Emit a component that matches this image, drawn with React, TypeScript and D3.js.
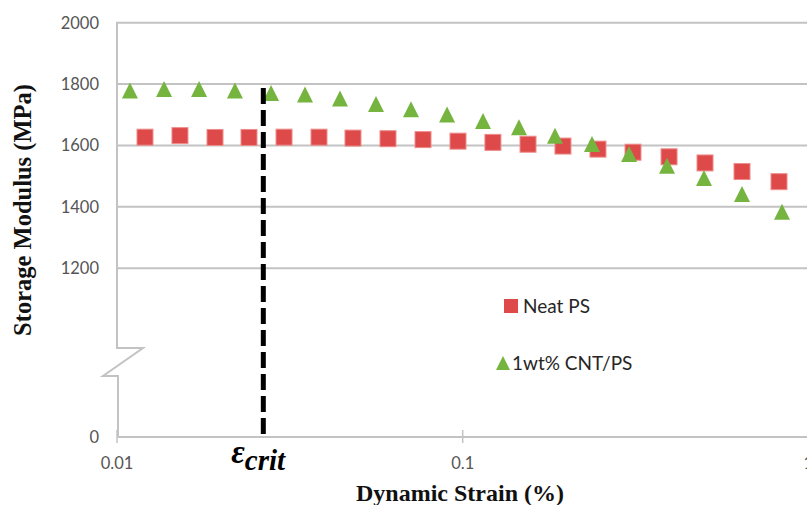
import * as d3 from 'd3'

const WIDTH = 807
const HEIGHT = 505

// Neat PS (red squares)
const neatStrain = [
  0.01205, 0.01521, 0.01921, 0.02409, 0.03042, 0.0384, 0.04815, 0.0608, 0.07677, 0.09692,
  0.1223, 0.1545, 0.195, 0.2462, 0.3109, 0.3953, 0.5023, 0.6426, 0.8222,
]
const neatModulus = [
  1627, 1632, 1626, 1626, 1627, 1627, 1624, 1622, 1619, 1614, 1610, 1604, 1598, 1588, 1578,
  1563, 1543, 1515, 1482,
]

// 1wt% CNT/PS (green triangles)
const cntStrain = [
  0.0109, 0.01368, 0.01727, 0.02194, 0.0279, 0.03498, 0.04417, 0.05614, 0.07088, 0.09009,
  0.1145, 0.1455, 0.1849, 0.2366, 0.3028, 0.3899, 0.4989, 0.6426, 0.8388,
]
const cntModulus = [
  1779, 1784, 1784, 1779, 1771, 1766, 1753, 1735, 1718, 1701, 1680, 1659, 1632, 1605, 1572,
  1534, 1494, 1442, 1384,
]

const yTicks = [0, 1200, 1400, 1600, 1800, 2000]
const yGridTicks = [1200, 1400, 1600, 1800, 2000]
const xTicks = [0.01, 0.1, 1]
const xTickLabels = ['0.01', '0.1', '1']
const ECRIT = 0.0265

const RED = '#de4a4a'
const GREEN = '#76b440'
const GRID = '#c3c3c3'
const LABEL = '#555'

const x = d3.scaleLog().domain([0.01, 1]).range([117, 808.4])
// broken axis: 0 sits below the 1200-2000 band
const y = d3.scaleLinear().domain([0, 1200, 2000]).range([437, 268.2, 22.7])

function trianglePath(cx: number, cy: number, h: number) {
  return `M${cx},${cy - h}L${cx + h},${cy + h}L${cx - h},${cy + h}Z`
}

export default function App() {
  const left = x(0.01)
  const right = x(1)
  const bottom = y(0)
  const breakTop = bottom - 89
  const breakBottom = bottom - 61

  const axisPath = d3.line()([
    [left, y(2000)],
    [left, breakTop],
    [left + 26, breakTop],
    [left - 14, breakBottom],
    [left + 1, breakBottom],
    [left + 1, bottom],
  ])

  return (
    <svg
      width={WIDTH}
      height={HEIGHT}
      style={{ position: 'absolute', left: 0, top: 0, background: '#fff' }}
    >
      <rect width={WIDTH} height={HEIGHT} fill="#fff" />

      {yGridTicks.map((t) => (
        <line key={t} x1={left - 1} x2={right} y1={y(t)} y2={y(t)} stroke={GRID} strokeWidth={2} />
      ))}
      <line x1={left + 1} x2={right} y1={bottom} y2={bottom} stroke={GRID} strokeWidth={2} />
      <path d={axisPath ?? ''} fill="none" stroke={GRID} strokeWidth={2} />

      {xTicks.map((t) => (
        <line key={t} x1={x(t)} x2={x(t)} y1={bottom - 7} y2={bottom + 6} stroke={GRID} strokeWidth={1.5} />
      ))}

      {yTicks.map((t) => (
        <text
          key={t}
          x={99}
          y={y(t) + 6}
          textAnchor="end"
          fontFamily="Lato"
          fontSize={16.5}
          fill={LABEL}
        >
          {t}
        </text>
      ))}

      {xTicks.map((t, i) => (
        <text
          key={t}
          x={x(t)}
          y={bottom + 32}
          textAnchor="middle"
          fontFamily="Lato"
          fontSize={16.5}
          fill={LABEL}
        >
          {xTickLabels[i]}
        </text>
      ))}

      {neatStrain.map((s, i) => (
        <rect
          key={`n${i}`}
          x={x(s) - 8}
          y={y(neatModulus[i]) - 8}
          width={16}
          height={16}
          fill={RED}
          stroke="#ee8c8c"
          strokeWidth={1}
        />
      ))}

      {cntStrain.map((s, i) => (
        <path key={`c${i}`} d={trianglePath(x(s), y(cntModulus[i]), 8)} fill={GREEN} />
      ))}

      <line
        x1={x(ECRIT)}
        x2={x(ECRIT)}
        y1={88}
        y2={bottom - 1}
        stroke="#000"
        strokeWidth={5}
        strokeDasharray="16 6"
      />

      <text x={x(ECRIT) - 32} y={463} fontFamily="Liberation Serif" fontWeight="bold" fontStyle="italic" fill="#000">
        <tspan fontSize={33}>ε</tspan>
        <tspan fontSize={29} dy={7}>crit</tspan>
      </text>

      {/* legend */}
      <rect x={504} y={299} width={14} height={14} fill={RED} />
      <text x={523} y={313} fontFamily="Lato" fontSize={19} fill="#262626">
        Neat PS
      </text>
      <path d={trianglePath(503, 363, 7)} fill={GREEN} />
      <text x={512} y={370} fontFamily="Lato" fontSize={19} fill="#262626">
        1wt% CNT/PS
      </text>

      <text
        x={460}
        y={501}
        textAnchor="middle"
        fontFamily="Liberation Serif"
        fontWeight="bold"
        fontSize={24}
        fill="#111"
      >
        Dynamic Strain (%)
      </text>
      <text
        transform={`translate(31,${210}) rotate(-90)`}
        textAnchor="middle"
        fontFamily="Liberation Serif"
        fontWeight="bold"
        fontSize={24.5}
        fill="#111"
      >
        Storage Modulus (MPa)
      </text>
    </svg>
  )
}
